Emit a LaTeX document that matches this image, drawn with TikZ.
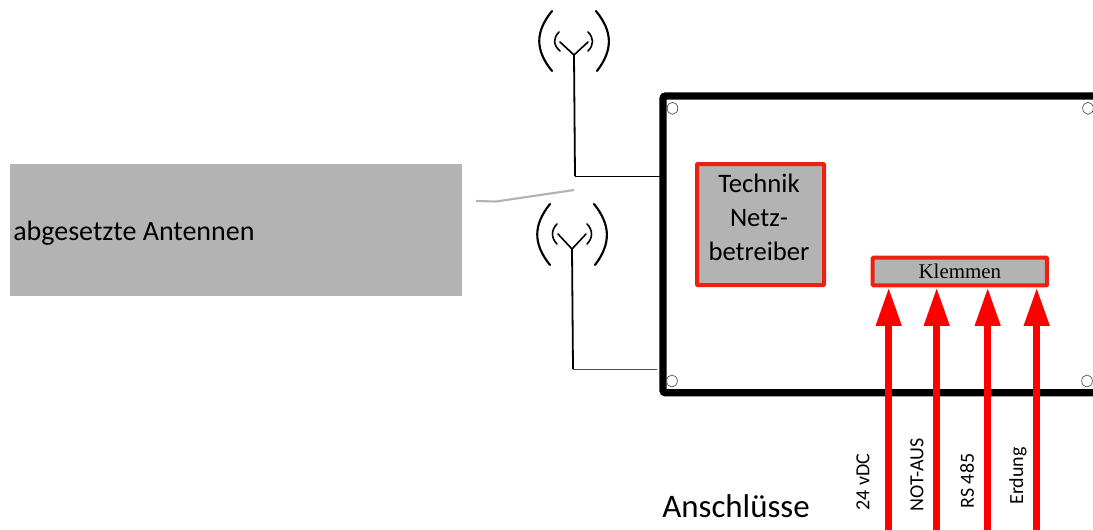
\documentclass[tikz,border=0pt]{standalone}
\usepackage{fontspec}
\setmainfont{Carlito}
\newfontfamily\serifkl{Liberation Serif}
\usetikzlibrary{arrows.meta,calc,shapes.geometric}
\definecolor{boxgray}{HTML}{B3B3B3}
\definecolor{boxred}{HTML}{F02010}
\tikzset{
  x=0.75pt,y=-0.75pt,
  panel/.style={draw=boxred,fill=boxgray,line width=3pt,rounded corners=0.6pt,inner sep=0pt,outer sep=1.5pt,anchor=north west,align=center},
  ant/.style={line width=1.6pt,line cap=round},
  antarm/.style={line width=1.2pt,line cap=round},
  mast/.style={line width=1.35pt},
  feed/.style={line width=0.75pt},
  hole/.style={draw=black!75,line width=0.45pt,fill=white,ellipse,minimum width=8pt,minimum height=9pt,inner sep=0pt},
  signal/.style={draw=red,line width=5.6pt,-{Triangle[length=29pt,width=18pt,fill=red]}},
  sidelabel/.style={rotate=90,anchor=center,inner sep=0pt,font=\fontsize{15pt}{16pt}\selectfont},
}
\begin{document}
\begin{tikzpicture}
\useasboundingbox (0,0) rectangle (1093,529);
\clip (0,0) rectangle (1093,529);
\fill[white] (0,0) rectangle (1093,529);
% grey label panel
\node[fill=boxgray,minimum width=339pt,minimum height=99pt,inner sep=0pt,outer sep=0pt,anchor=north west] (graubox) at (10,164) {};
\node[anchor=west,inner sep=0pt,font=\fontsize{21pt}{25pt}\selectfont] (antlabel) at (13,233) {abgesetzte Antennen};
% housing
\node[draw=black,line width=5.5pt,rounded corners=2pt,minimum width=345pt,minimum height=222.6pt,inner sep=0pt,outer sep=0pt,anchor=north west] (gehaeuse) at (663,96) {};
% holes
\node[hole] (h1) at (672.5,108.3) {};
\node[hole] (h2) at (1088,108.3) {};
\node[hole] (h3) at (672,381) {};
\node[hole] (h4) at (1087,381) {};
% grey leader
\coordinate (l0) at (476,201);
\coordinate (l1) at (496,201.5);
\coordinate (l2) at (574,190);
\draw[boxgray,line width=1.6pt] (l0) -- (l1) -- (l2);
% antenna 1
\coordinate (a1) at (574,55);
\coordinate (a1f) at (575,176);
\draw[mast] (a1) -- (a1f);
\draw[feed] (a1f) -- (a1f -| gehaeuse.west);
\draw[antarm] (560,42) -- (a1) -- (588,42);
\draw[ant] (552,11) .. controls (535,32) and (535,50) .. (552,71);
\draw[ant] (596,11) .. controls (613,32) and (613,50) .. (597,71);
\draw[antarm] (559,32) .. controls (553,38) and (553,45) .. (560,51);
\draw[antarm] (588,32) .. controls (594,38) and (594,45) .. (588,51);
% antenna 2
\coordinate (a2) at (572,249);
\coordinate (a2f) at (573,369);
\coordinate (a2e) at (657,369);
\draw[mast] (a2) -- (a2f);
\draw[feed,draw=black!70] (a2f) -- (a2e);
\draw[antarm] (558,234) -- (a2) -- (586,234);
\draw[ant] (550,204) .. controls (533,225) and (533,244) .. (550,265);
\draw[ant] (594,204) .. controls (611,225) and (611,244) .. (595,265);
\draw[antarm] (557,224) .. controls (551,230) and (551,238) .. (557,244);
\draw[antarm] (587,224) .. controls (593,230) and (593,238) .. (587,244);
% inner boxes
\node[panel,minimum width=95.25pt,minimum height=90.75pt] (technik) at (695,162) {};
\node[inner sep=0pt,font=\fontsize{20pt}{25.5pt}\selectfont,align=center,anchor=north] (techniktext) at (759,174) {Technik\\Netz-\\betreiber};
\node[panel,minimum width=130.7pt,minimum height=20.7pt,font=\serifkl\fontsize{15.7pt}{17pt}\selectfont] (klemmen) at (870.7,255.7) {Klemmen};
% signal arrows
\coordinate (s1) at (888.7,540);
\coordinate (s2) at (936.7,540);
\coordinate (s3) at (987.7,540);
\coordinate (s4) at (1036.7,540);
\draw[signal] (s1) -- (s1 |- klemmen.south);
\draw[signal] (s2) -- (s2 |- klemmen.south);
\draw[signal] (s3) -- (s3 |- klemmen.south);
\draw[signal] (s4) -- (s4 |- klemmen.south);
% labels
\node[sidelabel] (t1) at (863,482) {24 vDC};
\node[sidelabel] (t2) at (917,475) {NOT-AUS};
\node[sidelabel] (t3) at (967,481) {RS 485};
\node[sidelabel] (t4) at (1018,476) {Erdung};
\node[anchor=west,inner sep=0pt,font=\fontsize{24.7pt}{29pt}\selectfont] (anschl) at (662,506) {Anschlüsse};
\end{tikzpicture}
\end{document}
